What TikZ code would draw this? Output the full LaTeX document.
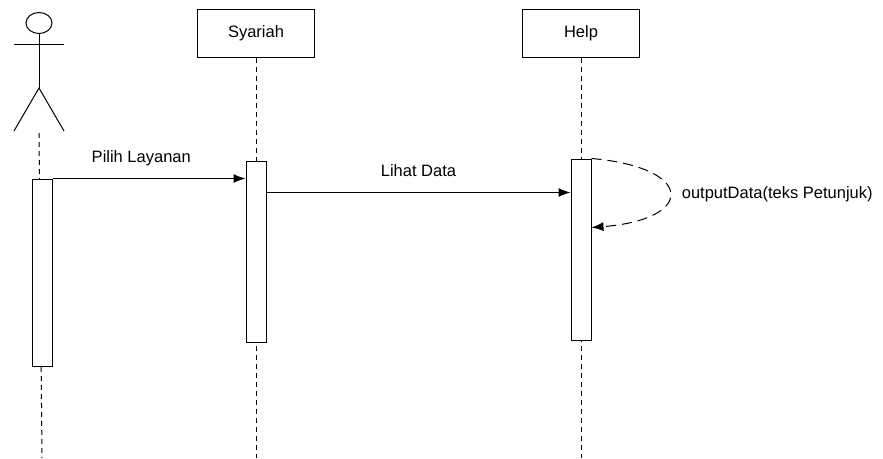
\documentclass[tikz,border=0pt]{standalone}
\usepackage{fontspec}
\setmainfont{Liberation Sans}
\usetikzlibrary{arrows.meta}
\usetikzlibrary{positioning}

\tikzset{
  objbox/.style={draw, minimum width=117pt, minimum height=48pt},
  actbox/.style={draw, fill=white, minimum width=20pt, inner sep=0pt},
  lifeline/.style={dash pattern=on 5pt off 4pt},
  msg/.style={-{Latex[length=12pt,width=9pt]}},
  selfmsg/.style={msg, dash pattern=on 10pt off 6pt},
  msglabel/.style={above=12.5pt, text depth=0pt}
}

\begin{document}
\begin{tikzpicture}[x=1pt, y=-1pt, line width=1pt, font=\fontsize{16.5pt}{19pt}\selectfont]
        \useasboundingbox (0,0) rectangle (883,458);

        % actor
        \draw (39,23) ellipse (13 and 10.5);
        \coordinate (neck) at (39,33.5);
        \coordinate (hip) at (39,88);
        \coordinate (feet) at (39,133);
        \draw (neck) -- (hip);
        \draw (14,44) -- (64,44);
        \draw (14,131) -- (hip) -- (64,131);

        \node[objbox] (syariah) at (256,33) {Syariah};
        \node[objbox, right of=syariah, node distance=325pt] (help) {Help};

        \coordinate (userend) at (42,458);
        \coordinate (syariahend) at (256,458);
        \coordinate (helpend) at (581,458);

        \draw[lifeline] (feet) -- (userend);
        \draw[lifeline] (syariah) -- (syariahend);
        \draw[lifeline] (help) -- (helpend);

        \node[actbox, minimum height=187pt] (useract) at (42,272.5) {};
        \node[actbox, minimum height=181pt] (syariahact) at (256,251.5) {};
        \node[actbox, minimum height=181pt] (helpact) at (581,249.5) {};

        \draw[msg] (useract.north east) -- node[msglabel, pos=0.46]{Pilih Layanan}
          (useract.north east -| syariahact.west);
        \draw[msg] ([yshift=-32pt]syariahact.north east) -- node[msglabel]{Lihat Data}
          ([yshift=-32pt]syariahact.north east -| helpact.west);
        \draw[selfmsg] (helpact.north east) .. controls +(104,9) and +(104,-8) ..
          ([yshift=-69pt]helpact.north east);
        \node[anchor=west] (outlabel) at (678,194) {outputData(teks Petunjuk)};
      \end{tikzpicture}
\end{document}
